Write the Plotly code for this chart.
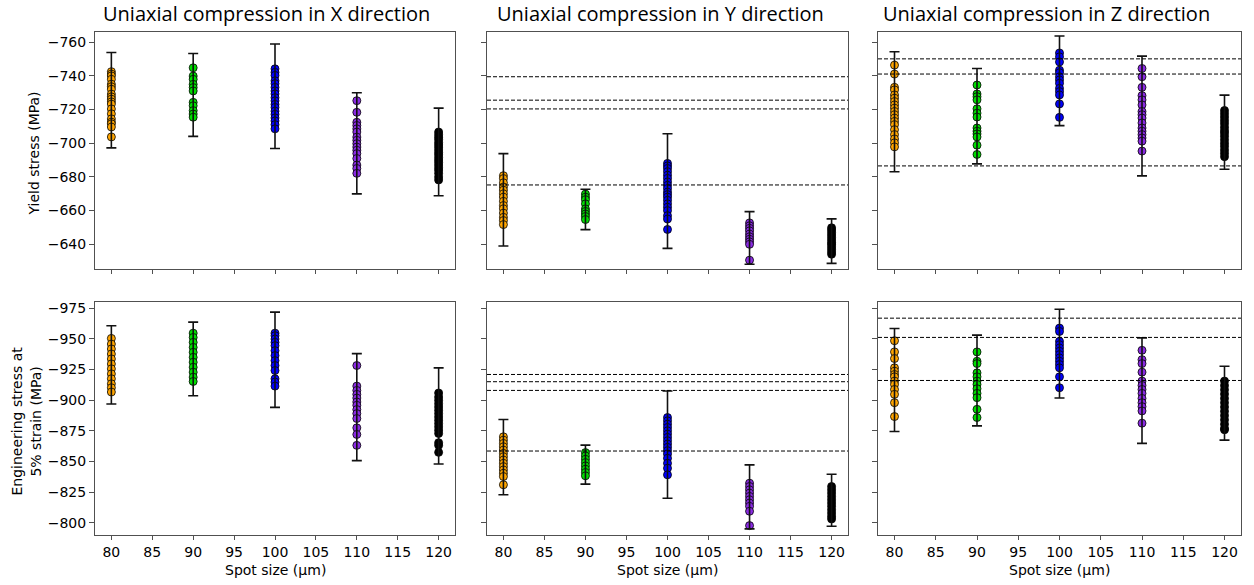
import plotly.graph_objects as go

W, H = 1254, 585

spot_sizes = [80, 90, 100, 110, 120]
colors = ["#FFA500", "#00DD00", "#0000FF", "#8A2BE2", "#000000"]
titles = ["Uniaxial compression in X direction",
          "Uniaxial compression in Y direction",
          "Uniaxial compression in Z direction"]

# ---- Yield stress (MPa), per direction, per spot size ----
yield_x = [
    [-742.4, -741.0, -739.9, -737.9, -735.0, -733.5, -732.0, -729.1, -727.5, -726.1, -724.5, -723.2, -720.3, -717.4, -714.4, -712.5, -711.5, -709.6, -703.7],
    [-744.7, -739.8, -737.9, -734.9, -733.0, -731.0, -724.2, -722.2, -719.3, -717.3, -715.4],
    [-744.1, -742.0, -740.2, -737.0, -735.3, -733.1, -731.0, -729.2, -727.0, -725.1, -723.0, -721.2, -719.0, -717.1, -715.0, -713.2, -711.0, -708.5],
    [-725.2, -718.3, -712.4, -710.5, -708.5, -706.6, -703.6, -701.7, -699.7, -697.7, -695.8, -693.8, -690.9, -687.0, -685.0, -682.1],
    [-706.6, -705.0, -703.5, -702.1, -700.4, -699.0, -697.6, -696.0, -694.4, -693.1, -691.5, -690.0, -688.6, -687.0, -685.4, -684.0, -682.1, -680.0, -678.2],
]
yield_y = [
    [-680.7, -679.0, -676.5, -674.0, -672.1, -670.0, -668.0, -665.5, -663.0, -661.1, -658.5, -656.0, -654.1, -651.7],
    [-669.8, -668.0, -666.5, -664.0, -661.0, -659.5, -658.0, -656.5, -654.7],
    [-688.0, -686.5, -685.0, -683.1, -681.0, -679.1, -677.0, -675.0, -673.1, -671.0, -669.5, -668.0, -666.1, -664.0, -662.0, -660.0, -657.0, -655.0, -648.8],
    [-652.7, -651.0, -649.5, -648.0, -646.1, -644.5, -643.0, -641.5, -640.0, -630.6],
    [-649.8, -648.5, -647.0, -645.5, -644.0, -642.5, -641.0, -640.0, -638.5, -637.0, -635.5, -634.1],
]
yield_z = [
    [-746.3, -741.0, -733.1, -731.6, -728.6, -726.7, -724.7, -722.7, -720.8, -718.8, -716.9, -714.9, -712.9, -711.0, -708.0, -705.1, -702.5, -700.2, -697.8],
    [-734.5, -729.2, -727.6, -725.7, -720.4, -717.8, -715.5, -709.0, -707.1, -705.5, -703.7, -698.8, -693.3],
    [-753.5, -751.2, -748.2, -743.3, -741.8, -739.4, -737.5, -735.5, -732.5, -730.6, -728.6, -723.3, -715.3],
    [-744.3, -739.4, -733.1, -728.2, -725.7, -722.7, -718.8, -716.9, -714.9, -712.0, -709.0, -707.1, -705.1, -703.1, -701.2, -695.3],
    [-719.4, -717.5, -715.5, -713.5, -711.6, -709.5, -707.5, -706.0, -704.1, -702.0, -700.0, -698.1, -696.0, -694.0, -692.0],
]

# ---- Engineering stress at 5% strain (MPa) ----
eng_x = [
    [-950.4, -945.8, -941.8, -937.7, -933.7, -929.6, -925.6, -921.5, -917.5, -913.4, -910.2, -906.7],
    [-954.7, -951.2, -947.2, -943.1, -939.1, -935.0, -931.0, -926.9, -922.9, -918.8, -915.3],
    [-954.7, -952.6, -949.9, -947.2, -944.5, -940.4, -936.4, -932.3, -928.3, -924.2, -917.5, -914.8, -911.5],
    [-928.3, -911.5, -908.0, -904.8, -901.8, -898.6, -895.9, -892.4, -889.1, -885.1, -877.5, -872.1, -863.2],
    [-905.9, -902.6, -899.9, -897.2, -894.5, -891.8, -889.1, -886.4, -883.7, -881.0, -878.3, -875.6, -872.9, -865.4, -863.2, -857.5],
]
eng_y = [
    [-870.2, -867.5, -864.8, -862.1, -859.4, -856.7, -854.0, -851.3, -848.6, -845.9, -843.2, -840.5, -837.8, -831.1],
    [-857.3, -854.6, -851.9, -849.2, -846.5, -843.8, -841.1, -838.4],
    [-885.9, -883.2, -880.5, -877.8, -875.1, -872.4, -869.7, -867.0, -864.3, -861.6, -858.9, -856.2, -852.7, -848.6, -844.6, -839.2],
    [-832.4, -829.7, -827.0, -824.3, -821.6, -818.9, -816.2, -813.5, -809.5, -797.8],
    [-829.7, -827.0, -824.3, -821.6, -818.9, -816.2, -813.5, -810.8, -808.1, -805.4, -803.2],
]
eng_z = [
    [-948.5, -939.4, -934.0, -926.4, -923.7, -921.0, -919.1, -915.6, -912.9, -908.8, -904.8, -898.0, -886.7],
    [-939.4, -931.8, -929.9, -922.3, -919.1, -915.6, -912.9, -909.4, -905.6, -902.1, -892.6, -885.9],
    [-958.8, -956.1, -948.0, -945.3, -942.6, -939.9, -937.2, -934.5, -931.8, -929.1, -926.4, -919.1, -910.2],
    [-940.7, -933.1, -929.9, -922.9, -915.6, -912.1, -908.8, -905.6, -901.5, -898.0, -894.8, -891.3, -881.3],
    [-915.6, -912.0, -908.5, -905.0, -901.5, -898.0, -894.5, -891.0, -887.5, -884.0, -880.5, -877.0, -875.9],
]

# ---- error bars: centre and half-length ----
yield_x_mean = [-725.5, -728.6, -727.8, -699.9, -694.8]
yield_x_err = [28.3, 24.6, 31.0, 30.0, 26.0]
yield_y_mean = [-666.4, -660.7, -671.6, -643.8, -641.9]
yield_y_err = [27.4, 12.0, 34.0, 15.6, 13.2]
yield_z_mean = [-718.6, -716.0, -737.0, -716.1, -706.5]
yield_z_err = [35.6, 28.3, 26.6, 35.5, 22.0]
eng_x_mean = [-928.8, -933.7, -933.0, -894.4, -887.2]
eng_x_err = [31.9, 30.0, 38.8, 43.6, 39.2]
eng_y_mean = [-853.6, -847.5, -863.8, -821.2, -818.5]
eng_y_err = [30.7, 15.9, 43.7, 26.1, 21.2]
eng_z_mean = [-916.5, -916.1, -938.0, -907.8, -897.6]
eng_z_err = [42.0, 37.0, 36.2, 43.0, 30.1]

# ---- dashed reference lines ----
yield_x_ref = []
yield_y_ref = [-739.4, -725.5, -720.3, -675.2]
yield_z_ref = [-750.0, -741.0, -686.5]
eng_x_ref = []
eng_y_ref = [-921.0, -915.1, -908.0, -858.6]
eng_z_ref = [-966.9, -951.2, -916.1]

yield_ticks = [-760, -740, -720, -700, -680, -660, -640]
eng_ticks = [-975, -950, -925, -900, -875, -850, -825, -800]
x_ticks = [80, 85, 90, 95, 100, 105, 110, 115, 120]

def minus_labels(vals):
    return [("\u2212" + str(abs(v))) if v < 0 else str(v) for v in vals]

panels = [
    (yield_x, yield_x_mean, yield_x_err, yield_x_ref),
    (yield_y, yield_y_mean, yield_y_err, yield_y_ref),
    (yield_z, yield_z_mean, yield_z_err, yield_z_ref),
    (eng_x, eng_x_mean, eng_x_err, eng_x_ref),
    (eng_y, eng_y_mean, eng_y_err, eng_y_ref),
    (eng_z, eng_z_mean, eng_z_err, eng_z_ref),
]

# layout in pixels
col_px = [(95, 455), (487, 848), (878, 1241)]
row_px = [(30, 268), (301, 535)]
row_range = [[-625.3, -766.0], [-790.0, -980.1]]

FONT = "DejaVu Sans, Verdana, sans-serif"
fig = go.Figure()
layout = dict(width=W, height=H, margin=dict(l=0, r=0, t=0, b=0),
              paper_bgcolor="white", plot_bgcolor="white", showlegend=False,
              font=dict(family=FONT, size=14, color="black"))
shapes = []
annotations = []
AX = "#505050"

for i, (groups, means, errs, refs) in enumerate(panels):
    r, c = divmod(i, 3)
    n = i + 1
    xa = "x" if n == 1 else f"x{n}"
    ya = "y" if n == 1 else f"y{n}"
    for k, vals in enumerate(groups):
        fig.add_trace(go.Scatter(
            x=[spot_sizes[k]] * len(vals), y=vals, mode="markers",
            marker=dict(size=8, color=colors[k], line=dict(color="black", width=0.8)),
            xaxis=xa, yaxis=ya, hoverinfo="skip"))
    fig.add_trace(go.Scatter(
        x=spot_sizes, y=means, mode="markers",
        marker=dict(size=1, color="rgba(0,0,0,0)"),
        error_y=dict(type="data", array=errs, symmetric=True, color="#111111",
                     thickness=1.6, width=5),
        xaxis=xa, yaxis=ya, hoverinfo="skip"))
    for v in refs:
        shapes.append(dict(type="line", xref=f"{xa} domain", yref=ya,
                           x0=0, x1=1, y0=v, y1=v,
                           line=dict(color="black", width=1, dash="4px,2px")))
    x0, x1 = col_px[c]
    y0, y1 = row_px[r]
    yt = yield_ticks if r == 0 else eng_ticks
    layout["xaxis" if n == 1 else f"xaxis{n}"] = dict(
        domain=[x0 / W, x1 / W], anchor=ya, range=[78, 122],
        tickvals=x_ticks, ticktext=[str(v) for v in x_ticks], showticklabels=(r == 1),
        ticks="outside", ticklen=4, tickcolor=AX, showgrid=False, zeroline=False,
        showline=True, linecolor=AX, linewidth=1, mirror=True,
        tickfont=dict(size=14, family=FONT, color="black"))
    layout["yaxis" if n == 1 else f"yaxis{n}"] = dict(
        domain=[1 - y1 / H, 1 - y0 / H], anchor=xa, range=row_range[r],
        tickvals=yt, ticktext=minus_labels(yt), showticklabels=(c == 0),
        ticks="outside", ticklen=5, tickcolor=AX, showgrid=False, zeroline=False,
        showline=True, linecolor=AX, linewidth=1, mirror=True,
        tickfont=dict(size=14, family=FONT, color="black"))

# column titles
title_cx = [266, 660, 1046]
for c in range(3):
    annotations.append(dict(text=titles[c], x=title_cx[c] / W, y=1 - 12 / H,
                            xref="paper", yref="paper", showarrow=False,
                            xanchor="center", yanchor="middle",
                            font=dict(family="Open Sans", size=20, color="black")))
    x0, x1 = col_px[c]
    annotations.append(dict(text="Spot size (µm)", x=(x0 + x1) / 2 / W, y=1 - 570 / H,
                            xref="paper", yref="paper", showarrow=False,
                            xanchor="center", yanchor="middle",
                            font=dict(family=FONT, size=14, color="black")))

annotations.append(dict(text="Yield stress (MPa)", x=34 / W, y=1 - 152 / H,
                        xref="paper", yref="paper", showarrow=False, textangle=-90,
                        xanchor="center", yanchor="middle",
                        font=dict(family=FONT, size=14, color="black")))
annotations.append(dict(text="Engineering stress at<br>5% strain (MPa)", x=26 / W, y=1 - 421 / H,
                        xref="paper", yref="paper", showarrow=False, textangle=-90,
                        xanchor="center", yanchor="middle",
                        font=dict(family=FONT, size=14, color="black")))

layout["shapes"] = shapes
layout["annotations"] = annotations
fig.update_layout(**layout)
fig.write_html("out.html")
